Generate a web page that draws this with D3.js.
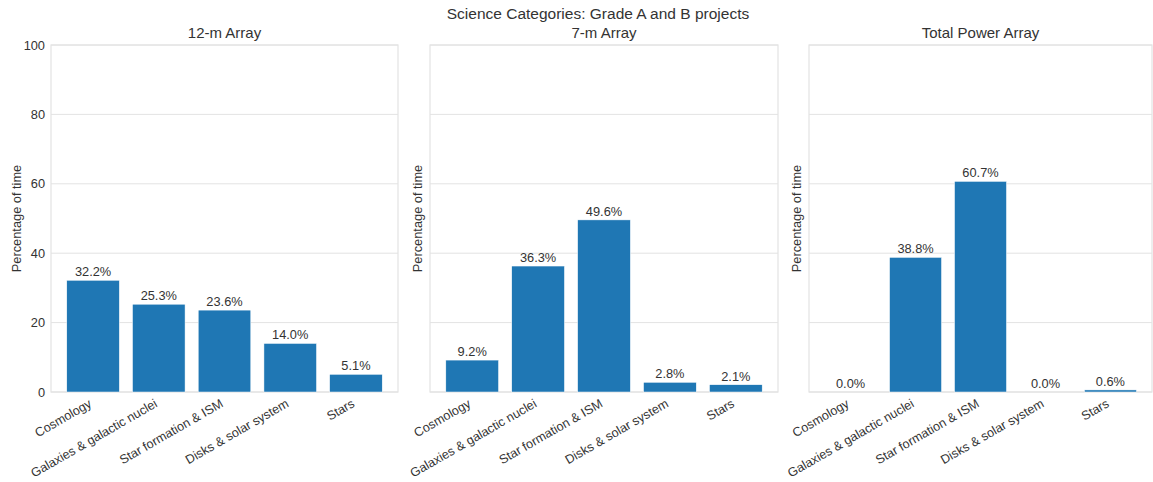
<!DOCTYPE html>
<html>
<head>
<meta charset="utf-8">
<script src="https://cdn.jsdelivr.net/npm/d3@7"></script>
<style>
  html, body { margin: 0; padding: 0; background: #fff; }
  svg { display: block; font-family: "Liberation Sans", Arial, sans-serif; }
</style>
</head>
<body>
<svg id="chart" width="1153" height="482"></svg>
<script>
const suptitle = "Science Categories: Grade A and B projects";
const categories = ["Cosmology", "Galaxies & galactic nuclei", "Star formation & ISM", "Disks & solar system", "Stars"];
const panelTitles = ["12-m Array", "7-m Array", "Total Power Array"];
const values12m = [32.2, 25.3, 23.6, 14.0, 5.1];
const values7m = [9.2, 36.3, 49.6, 2.8, 2.1];
const valuesTP = [0.0, 38.8, 60.7, 0.0, 0.6];
const yTicks = [0, 20, 40, 60, 80, 100];
const yLabel = "Percentage of time";

(function () {
const panels = [
  { title: panelTitles[0], values: values12m, left: 51, right: 398 },
  { title: panelTitles[1], values: values7m, left: 430, right: 778 },
  { title: panelTitles[2], values: valuesTP, left: 809, right: 1152 }
];

const plotTop = 45, plotBottom = 392;
const svg = d3.select("#chart");
const textColor = "#333";
const gridColor = "#e3e3e3";
const fs = 12.8;

const y = d3.scaleLinear().domain([0, 100]).range([plotBottom, plotTop]);

svg.append("text")
  .attr("x", 598).attr("y", 19)
  .attr("text-anchor", "middle")
  .attr("font-size", 15.5).attr("fill", textColor)
  .text(suptitle);

panels.forEach((p, pi) => {
  const x = d3.scaleLinear().domain([-0.64, 4.64]).range([p.left, p.right]);
  const g = svg.append("g");

  g.selectAll("line.grid").data(yTicks).enter().append("line")
    .attr("x1", p.left).attr("x2", p.right)
    .attr("y1", d => y(d)).attr("y2", d => y(d))
    .attr("stroke", gridColor).attr("stroke-width", 1);

  g.append("rect")
    .attr("x", p.left).attr("y", plotTop)
    .attr("width", p.right - p.left).attr("height", plotBottom - plotTop)
    .attr("fill", "none").attr("stroke", gridColor).attr("stroke-width", 1.2);

  if (pi === 0) {
    const yAxis = d3.axisLeft(y).tickValues(yTicks).tickSize(0).tickPadding(6);
    const ya = g.append("g").attr("transform", `translate(${p.left},0)`).call(yAxis);
    ya.select(".domain").remove();
    ya.selectAll("text").attr("font-size", fs).attr("fill", textColor)
      .attr("font-family", "Liberation Sans, Arial, sans-serif");
  }

  g.append("text")
    .attr("transform", `translate(${p.left - (pi === 0 ? 30 : 8)},${(plotTop + plotBottom) / 2}) rotate(-90)`)
    .attr("text-anchor", "middle")
    .attr("font-size", fs).attr("fill", textColor)
    .text(yLabel);

  g.append("text")
    .attr("x", (p.left + p.right) / 2).attr("y", 38)
    .attr("text-anchor", "middle")
    .attr("font-size", 15).attr("fill", textColor)
    .text(p.title);

  const bw = x(0.4) - x(-0.4);
  g.selectAll("rect.bar").data(p.values).enter().append("rect")
    .attr("class", "bar")
    .attr("x", (d, i) => x(i - 0.4))
    .attr("width", bw)
    .attr("y", d => y(d))
    .attr("height", d => y(0) - y(d))
    .attr("fill", "#1f77b4")
    .attr("stroke", "#ffffff").attr("stroke-width", 0.5);

  g.selectAll("text.val").data(p.values).enter().append("text")
    .attr("class", "val")
    .attr("x", (d, i) => x(i))
    .attr("y", d => y(d) - 4)
    .attr("text-anchor", "middle")
    .attr("font-size", fs).attr("fill", textColor)
    .text(d => d.toFixed(1) + "%");

  const xAxis = d3.axisBottom(x).tickValues(d3.range(categories.length))
    .tickFormat(i => categories[i]).tickSize(0).tickPadding(0);
  const xa = g.append("g").attr("transform", `translate(0,${plotBottom})`).call(xAxis);
  xa.select(".domain").remove();
  xa.selectAll("text")
    .attr("font-size", 12.6).attr("fill", textColor)
    .attr("font-family", "Liberation Sans, Arial, sans-serif")
    .attr("text-anchor", "end")
    .attr("dy", null)
    .attr("y", 0)
    .attr("transform", "translate(-1,14) rotate(-30)");
});
})();
</script>
</body>
</html>
